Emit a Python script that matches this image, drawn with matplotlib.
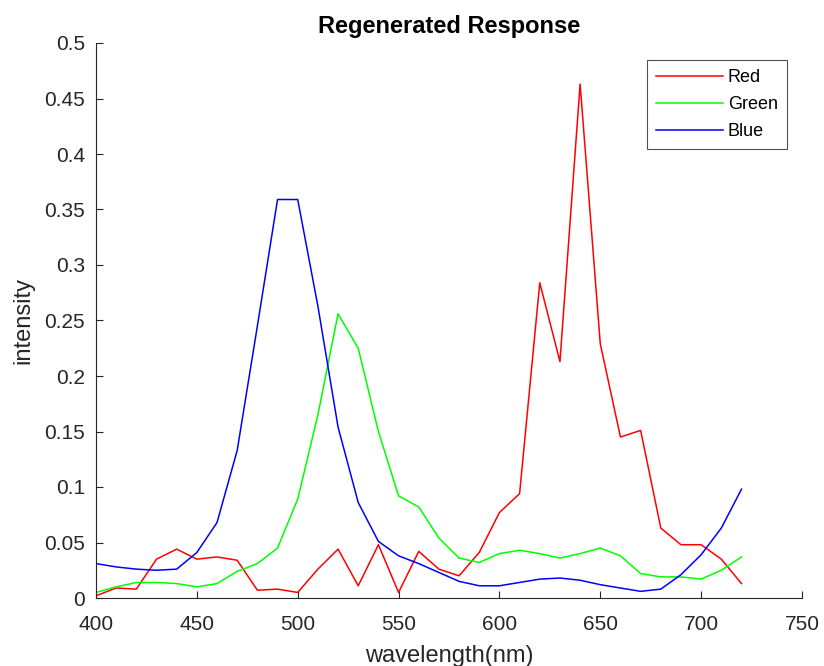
import matplotlib
matplotlib.use("Agg")
import matplotlib.pyplot as plt
from matplotlib.ticker import FormatStrFormatter, MultipleLocator

plt.rcParams['font.family'] = ['Liberation Sans', 'DejaVu Sans']

wavelength = list(range(400, 721, 10))

red = [0.002, 0.009, 0.008, 0.035, 0.044, 0.035, 0.037, 0.034, 0.007, 0.008,
       0.005, 0.026, 0.044, 0.011, 0.048, 0.005, 0.042, 0.026, 0.020, 0.041,
       0.077, 0.094, 0.284, 0.213, 0.463, 0.229, 0.145, 0.151, 0.063, 0.048,
       0.048, 0.035, 0.013]
green = [0.005, 0.010, 0.014, 0.014, 0.013, 0.010, 0.013, 0.024, 0.031, 0.045,
         0.089, 0.165, 0.256, 0.225, 0.150, 0.092, 0.082, 0.054, 0.036, 0.032,
         0.040, 0.043, 0.040, 0.036, 0.040, 0.045, 0.038, 0.022, 0.019, 0.019,
         0.017, 0.025, 0.037]
blue = [0.031, 0.028, 0.026, 0.025, 0.026, 0.041, 0.068, 0.133, 0.245, 0.359,
        0.359, 0.263, 0.154, 0.086, 0.051, 0.038, 0.031, 0.023, 0.015, 0.011,
        0.011, 0.014, 0.017, 0.018, 0.016, 0.012, 0.009, 0.006, 0.008, 0.021,
        0.039, 0.063, 0.098]

axcol = (0.15, 0.15, 0.15)

fig = plt.figure(figsize=(8.24, 6.66), dpi=100)
# axes box: x 96..802 px, y 43..598 px
ax = fig.add_axes([96 / 824, 1 - 598 / 666, 706 / 824, 555 / 666])

ax.plot(wavelength, red, color=(1, 0, 0), lw=1.1, label='Red')
ax.plot(wavelength, green, color=(0, 1, 0), lw=1.1, label='Green')
ax.plot(wavelength, blue, color=(0, 0, 1), lw=1.1, label='Blue')

ax.set_xlim(400, 750)
ax.set_ylim(0, 0.5)
ax.xaxis.set_major_locator(MultipleLocator(50))
ax.yaxis.set_major_locator(MultipleLocator(0.05))
ax.yaxis.set_major_formatter(FormatStrFormatter('%g'))

for side in ['top', 'right']:
    ax.spines[side].set_visible(False)
for side in ['left', 'bottom']:
    ax.spines[side].set_color(axcol)
    ax.spines[side].set_linewidth(0.8)
ax.tick_params(direction='in', length=5, width=0.8, colors=axcol, labelsize=15)
ax.tick_params(axis='x', pad=12)
ax.tick_params(axis='y', pad=8)

ax.set_title('Regenerated Response', fontsize=17, fontweight='bold', pad=7)
ax.set_xlabel('wavelength(nm)', fontsize=17, color=axcol, labelpad=8)
ax.set_ylabel('intensity', fontsize=17, color=axcol, labelpad=7)

leg = ax.legend(loc='upper right', bbox_to_anchor=(787 / 824, 1 - 60 / 666),
                bbox_transform=fig.transFigure, borderaxespad=0,
                fontsize=13, fancybox=False, handlelength=3.7,
                handletextpad=0.3, borderpad=0.5, labelspacing=0.55)
leg.get_frame().set_edgecolor(axcol)
leg.get_frame().set_linewidth(0.8)

fig.savefig('out.png', dpi=100)
